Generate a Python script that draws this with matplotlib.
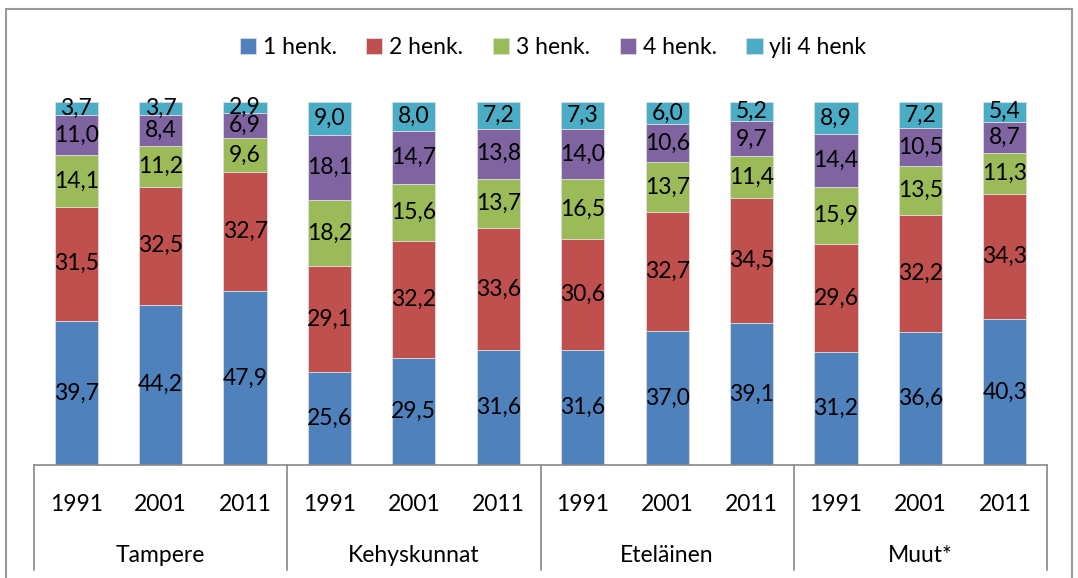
import numpy as np
import matplotlib
matplotlib.use('Agg')
from matplotlib import pyplot as plt
from matplotlib.patches import Rectangle
from matplotlib.lines import Line2D

plt.rcParams['font.family'] = ['Lato', 'DejaVu Sans']

regions = ['Tampere', 'Kehyskunnat', 'Eteläinen', 'Muut*']
years = ['1991', '2001', '2011']
series_names = ['1 henk.', '2 henk.', '3 henk.', '4 henk.', 'yli 4 henk']
colors = ['#4F81BD', '#C0504D', '#9BBB59', '#8064A2', '#4BACC6']

one_person = [39.7, 44.2, 47.9, 25.6, 29.5, 31.6, 31.6, 37.0, 39.1, 31.2, 36.6, 40.3]
two_person = [31.5, 32.5, 32.7, 29.1, 32.2, 33.6, 30.6, 32.7, 34.5, 29.6, 32.2, 34.3]
three_person = [14.1, 11.2, 9.6, 18.2, 15.6, 13.7, 16.5, 13.7, 11.4, 15.9, 13.5, 11.3]
four_person = [11.0, 8.4, 6.9, 18.1, 14.7, 13.8, 14.0, 10.6, 9.7, 14.4, 10.5, 8.7]
over_four = [3.7, 3.7, 2.9, 9.0, 8.0, 7.2, 7.3, 6.0, 5.2, 8.9, 7.2, 5.4]

series = [one_person, two_person, three_person, four_person, over_four]

FS = 16.5

fig = plt.figure(figsize=(10.78, 5.78), dpi=100)
ax = fig.add_axes([0.0315, 0.1955, 0.9398, 0.628])

x = np.arange(len(one_person))
bottom = np.zeros(len(x))
for name, vals, col in zip(series_names, series, colors):
    vals = np.array(vals)
    ax.bar(x, vals, width=0.51, bottom=bottom, color=col, label=name,
           edgecolor='#dcdcdc', linewidth=0.6)
    for xi, b, v in zip(x, bottom, vals):
        ax.text(xi, b + v / 2, f'{v:.1f}'.replace('.', ','), ha='center', va='center',
                fontsize=FS, color='black')
    bottom += vals

ax.set_xlim(-0.5, len(x) - 0.5)
ax.set_ylim(0, 100)
ax.set_yticks([])
ax.set_xticks([])
for s in ['left', 'right', 'top']:
    ax.spines[s].set_visible(False)
ax.spines['bottom'].set_color('#888888')
ax.spines['bottom'].set_linewidth(1.2)

# grouped category axis below
trans = ax.get_xaxis_transform()
for i, xi in enumerate(x):
    ax.text(xi, -0.11, years[i % 3], transform=trans, ha='center', va='center',
            fontsize=FS, clip_on=False)
for g, name in enumerate(regions):
    ax.text(g * 3 + 1, -0.25, name, transform=trans, ha='center', va='center',
            fontsize=FS, clip_on=False)
for g in range(len(regions) + 1):
    ax.add_line(Line2D([g * 3 - 0.5, g * 3 - 0.5], [0, -0.29], transform=trans,
                       color='#888888', linewidth=1.2, clip_on=False))

leg = fig.legend(loc='center', bbox_to_anchor=(0.513, 0.917), ncol=5, frameon=False,
                 fontsize=FS, handlelength=0.7, handleheight=0.7, handletextpad=0.3,
                 columnspacing=1.3)

fig.add_artist(Rectangle((0.0055, -0.1), 0.989, 1.085, transform=fig.transFigure,
                         fill=False, edgecolor='#999999', linewidth=1.5))

fig.savefig('out.png', dpi=100)
